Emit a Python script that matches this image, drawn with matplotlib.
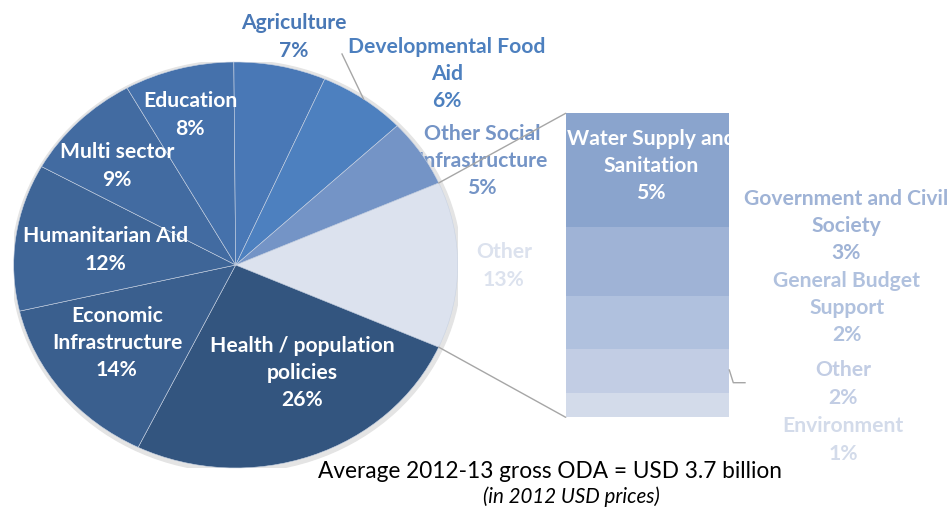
import matplotlib.pyplot as plt
from matplotlib.patches import ConnectionPatch, Ellipse, Rectangle
from matplotlib.lines import Line2D
import numpy as np

plt.rcParams['font.family'] = ['Lato', 'DejaVu Sans']

W, H = 953, 512

# pie (clockwise, starting with the "Other" slice on the right)
pie_labels = ['Other', 'Health / population\npolicies', 'Economic\nInfrastructure',
              'Humanitarian Aid', 'Multi sector', 'Education', 'Agriculture',
              'Developmental Food\nAid', 'Other Social\nInfrastructure']
pie_values = [13.25, 25.6, 14.1, 11.7, 8.8, 8.0, 6.7, 6.4, 5.4]
pie_colors = ['#DCE2EE', '#33557F', '#3A5F8E', '#3E6597', '#426BA1',
              '#4571AB', '#4978B6', '#4D80BF', '#7494C6']

# breakdown of "Other" (top to bottom)
bar_labels = ['Water Supply and\nSanitation', 'Government and Civil\nSociety',
              'General Budget\nSupport', 'Other', 'Environment']
bar_values = [4.9, 2.95, 2.25, 1.9, 1.05]
bar_colors = ['#8AA4CD', '#9FB3D6', '#B0C1DE', '#C2CDE4', '#D3DBEA']

# label centres in pixels (from top-left) and whether they sit inside the mark
pie_label_pos = [(504, 266), (302, 373), (117, 343), (106, 250), (117, 166),
                 (190, 115), (294, 37), (447, 74), (482, 161)]
pie_label_inside = [False, True, True, True, True, True, False, False, False]
bar_label_pos = [(651, 166), (846, 226), (847, 308), (843, 384), (843, 440)]
bar_label_inside = [True, False, False, False, False]

FS = 15.2
LS = 1.45


def px(x, y):
    return x / W, 1 - y / H


fig = plt.figure(figsize=(W / 100, H / 100), dpi=100)

# pie axes, slightly wider than tall like the original
cx, cy, rx, ry = 235.7, 265.0, 222.0, 203.0
ax = fig.add_axes([(cx - rx) / W, 1 - (cy + ry) / H, 2 * rx / W, 2 * ry / H])
ax.add_patch(Ellipse((0.004, -0.006), 2.025, 2.03, color='#E4E4E4', zorder=0))
wedges, _ = ax.pie(pie_values, colors=pie_colors, startangle=23.85, counterclock=False,
                   wedgeprops=dict(edgecolor='#C9D3E3', linewidth=0.4))
ax.set_aspect('auto')
ax.set_xlim(-1, 1)
ax.set_ylim(-1, 1)

for i, (lab, val, col, (x, y), inside) in enumerate(zip(pie_labels, pie_values, pie_colors,
                                                        pie_label_pos, pie_label_inside)):
    # the last label tucks under the pie, as in the original
    z = 0.5 if i == len(pie_labels) - 1 else 5
    ax.text(*px(x, y), f'{lab}\n{round(val):.0f}%', transform=fig.transFigure,
            ha='center', va='center', fontsize=FS, fontweight='bold', linespacing=LS,
            color='white' if inside else col, zorder=z, clip_on=False)

# bar axes
bx0, bx1, by0, by1 = 565.7, 729.3, 113.3, 417.3
ax2 = fig.add_axes([bx0 / W, 1 - by1 / H, (bx1 - bx0) / W, (by1 - by0) / H])
total = sum(bar_values)
tops = total - np.cumsum([0] + bar_values[:-1])
bottoms = tops - np.array(bar_values)
ax2.bar(0, bar_values, bottom=bottoms, width=1, align='edge', color=bar_colors)
ax2.set_xlim(0, 1)
ax2.set_ylim(0, total)
ax2.axis('off')

for lab, val, col, (x, y), inside in zip(bar_labels, bar_values, bar_colors,
                                         bar_label_pos, bar_label_inside):
    fig.text(*px(x, y), f'{lab}\n{round(val):.0f}%', ha='center', va='center',
             fontsize=FS, fontweight='bold', linespacing=LS,
             color='white' if inside else col)

# connectors from the "Other" slice to the bar
t1, t2 = np.deg2rad(wedges[0].theta1), np.deg2rad(wedges[0].theta2)
for t, yb in [(t2, total), (t1, 0)]:
    con = ConnectionPatch(xyA=(np.cos(t), np.sin(t)), coordsA=ax.transData,
                          xyB=(0, yb), coordsB=ax2.transData,
                          color='#A6A6A6', linewidth=1.0, zorder=6)
    fig.add_artist(con)

# leader lines
w = wedges[7]
tm = np.deg2rad((w.theta1 + w.theta2) / 2)
ex, ey = cx + rx * np.cos(tm), cy - ry * np.sin(tm)
fig.add_artist(Line2D(*zip(px(342, 54), px(ex, ey)), transform=fig.transFigure,
                      color='#A6A6A6', linewidth=1.0))
fig.add_artist(Line2D(*zip(px(729.3, 370), px(733.3, 382.7), px(745, 382.7)),
                      transform=fig.transFigure, color='#A6A6A6', linewidth=1.0))

fig.text(*px(550, 472), 'Average 2012-13 gross ODA = USD 3.7 billion',
         ha='center', va='center', fontsize=16.3, color='black')
fig.text(*px(571, 497), '(in 2012 USD prices)', ha='center', va='center',
         fontsize=14.8, style='italic', color='black')

fig.savefig('out.png', dpi=100, facecolor='white')
